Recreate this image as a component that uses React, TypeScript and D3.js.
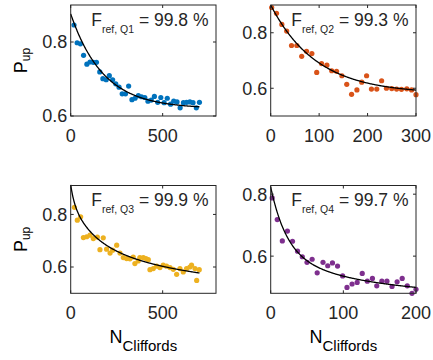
import React from 'react';
import * as d3 from 'd3';

const W = 433;
const H = 360;
const FONT = '"Liberation Sans", Arial, Helvetica, sans-serif';
const INK = '#262626';

// Q1 – randomized benchmarking decay
const q1N = [18, 35, 53, 70, 88, 105, 123, 140, 158, 175, 193, 210, 228, 245, 263, 280, 298, 315, 333, 350,
  368, 385, 403, 420, 438, 455, 473, 490, 508, 525, 543, 560, 578, 595, 613, 630, 648, 665, 683, 700];
const q1P = [0.846, 0.798, 0.795, 0.764, 0.740, 0.746, 0.745, 0.745, 0.719, 0.701, 0.698, 0.709, 0.698, 0.687,
  0.678, 0.660, 0.660, 0.681, 0.644, 0.648, 0.655, 0.652, 0.650, 0.640, 0.643, 0.653, 0.637, 0.650, 0.636, 0.648,
  0.632, 0.640, 0.638, 0.622, 0.636, 0.637, 0.638, 0.636, 0.622, 0.637];
const q1FitOffset = 0.62;
const q1FitTerms = [[0.256, 176.7]];

// Q2
const q2N = [2, 12, 23, 33, 43, 54, 64, 74, 85, 95, 105, 116, 126, 136, 147, 157, 167, 178, 188, 198,
  208, 219, 229, 239, 250, 260, 270, 281, 291, 300];
const q2P = [0.891, 0.870, 0.830, 0.806, 0.754, 0.754, 0.715, 0.733, 0.725, 0.657, 0.689, 0.683, 0.663, 0.661,
  0.645, 0.614, 0.578, 0.594, 0.622, 0.645, 0.597, 0.597, 0.627, 0.600, 0.599, 0.597, 0.596, 0.598, 0.594, 0.577];
const q2FitOffset = 0.58;
const q2FitTerms = [[0.32, 94.5]];

// Q3
const q3N = [20, 36, 54, 69, 87, 105, 123, 145, 159, 177, 195, 214, 228, 250, 268, 286, 304, 322, 340, 349,
  367, 376, 395, 409, 422, 431, 449, 467, 485, 503, 521, 540, 558, 576, 594, 612, 630, 648, 657, 676, 685, 699];
const q3P = [0.827, 0.778, 0.791, 0.712, 0.715, 0.721, 0.708, 0.714, 0.666, 0.711, 0.668, 0.653, 0.664, 0.683,
  0.653, 0.636, 0.632, 0.631, 0.638, 0.613, 0.623, 0.636, 0.636, 0.632, 0.628, 0.590, 0.594, 0.603, 0.598, 0.607,
  0.603, 0.598, 0.591, 0.572, 0.594, 0.581, 0.594, 0.600, 0.607, 0.594, 0.549, 0.590];
const q3FitOffset = 0.52;
const q3FitTerms = [[0.197, 564], [0.135, 110], [0.06, 20]];

// Q4
const q4N = [2, 9, 16, 23, 30, 37, 43.5, 50, 57, 64, 72, 78.5, 85, 92, 99, 105, 112, 119, 126, 133,
  140, 146, 153, 160, 167, 174, 181, 188, 194.5, 200];
const q4P = [0.788, 0.718, 0.649, 0.681, 0.648, 0.616, 0.598, 0.580, 0.590, 0.546, 0.580, 0.569, 0.578, 0.568,
  0.536, 0.499, 0.510, 0.515, 0.544, 0.519, 0.528, 0.504, 0.519, 0.519, 0.502, 0.517, 0.528, 0.504, 0.480, 0.493];
const q4FitOffset = 0.47;
const q4FitTerms = [[0.137, 129], [0.216, 22]];

const qubitNames = ['Q1', 'Q2', 'Q3', 'Q4'];
const fidelities = ['99.8', '99.3', '99.9', '99.7'];
const colors = ['#0072BD', '#D95319', '#EDB120', '#7E2F8E'];
const xDomains = [[0, 790], [0, 300], [0, 790], [0, 200]];
const yDomains = [[0.6, 0.9], [0.5, 0.9], [0.5, 0.91], [0.48, 0.828]];
const xTicks = [[0, 500], [0, 100, 200, 300], [0, 500], [0, 100, 200]];
const yTicks = [[0.6, 0.8], [0.6, 0.8], [0.6, 0.8], [0.6, 0.8]];
const fitMax = [700, 300, 700, 200];

const colLeft = [70.7, 270.7];
const colRight = [216, 416];
const rowTop = [5, 185.5];
const rowBottom = [116, 293.3];

const seriesN = [q1N, q2N, q3N, q4N];
const seriesP = [q1P, q2P, q3P, q4P];
const fitOffsets = [q1FitOffset, q2FitOffset, q3FitOffset, q4FitOffset];
const fitTerms = [q1FitTerms, q2FitTerms, q3FitTerms, q4FitTerms];

function Panel({ i }: { i: number }) {
  const col = i % 2;
  const row = Math.floor(i / 2);
  const left = colLeft[col];
  const right = colRight[col];
  const top = rowTop[row];
  const bottom = rowBottom[row];
  const x = d3.scaleLinear().domain(xDomains[i]).range([left, right]);
  const y = d3.scaleLinear().domain(yDomains[i]).range([bottom, top]);

  const model = (n: number) =>
    fitOffsets[i] + fitTerms[i].reduce((s, [a, tau]) => s + a * Math.exp(-n / tau), 0);
  const samples = d3.range(0, fitMax[i] + 1e-9, fitMax[i] / 300);
  const fitPath = d3.line<number>().x((n) => x(n)).y((n) => y(model(n)))(samples) || '';

  const tl = 3;
  const points = seriesN[i].map((n, k) => ({ n, p: seriesP[i][k] }));

  return (
    <g>
      {points.map((d, k) => (
        <circle key={k} cx={x(d.n)} cy={y(d.p)} r={2.6} fill={colors[i]} />
      ))}
      <path d={fitPath} fill="none" stroke="#000" strokeWidth={1.3} />
      <rect x={left} y={top} width={right - left} height={bottom - top} fill="none" stroke={INK} strokeWidth={1} />
      {xTicks[i].map((t) => (
        <g key={'x' + t}>
          <line x1={x(t)} x2={x(t)} y1={bottom} y2={bottom - tl} stroke={INK} />
          <line x1={x(t)} x2={x(t)} y1={top} y2={top + tl} stroke={INK} />
          <text x={x(t)} y={bottom + 25.7} textAnchor="middle" fontSize={18} fill={INK}>{t}</text>
        </g>
      ))}
      {yTicks[i].map((t) => (
        <g key={'y' + t}>
          <line x1={left} x2={left + tl} y1={y(t)} y2={y(t)} stroke={INK} />
          <line x1={right} x2={right - tl} y1={y(t)} y2={y(t)} stroke={INK} />
          <text x={left - 3.5} y={y(t) + 6.4} textAnchor="end" fontSize={18} fill={INK}>{t.toFixed(1)}</text>
        </g>
      ))}
      <text x={right - 7.5} y={top + 20.5} textAnchor="end" fontSize={17.5} fill={INK} style={{ whiteSpace: 'pre' }}>
        F<tspan fontSize={10.5} dy={7}>{'ref, ' + qubitNames[i]}</tspan>
        <tspan dy={-7}>{' = ' + fidelities[i] + ' %'}</tspan>
      </text>
      {col === 0 && (
        <text
          transform={`translate(27,${(top + bottom) / 2}) rotate(-90)`}
          textAnchor="middle"
          fontSize={18}
          fill="#000"
        >
          P<tspan fontSize={12} dy={3}>up</tspan>
        </text>
      )}
      {row === 1 && (
        <text x={(left + right) / 2} y={343.3} textAnchor="middle" fontSize={18} fill="#000">
          N<tspan fontSize={15} dy={7.4}>Cliffords</tspan>
        </text>
      )}
    </g>
  );
}

export default function App() {
  return (
    <svg
      width={W}
      height={H}
      viewBox={`0 0 ${W} ${H}`}
      style={{ position: 'absolute', left: 0, top: 0, background: '#fff', fontFamily: FONT }}
    >
      <rect width={W} height={H} fill="#fff" />
      {[0, 1, 2, 3].map((i) => (
        <Panel key={i} i={i} />
      ))}
    </svg>
  );
}
